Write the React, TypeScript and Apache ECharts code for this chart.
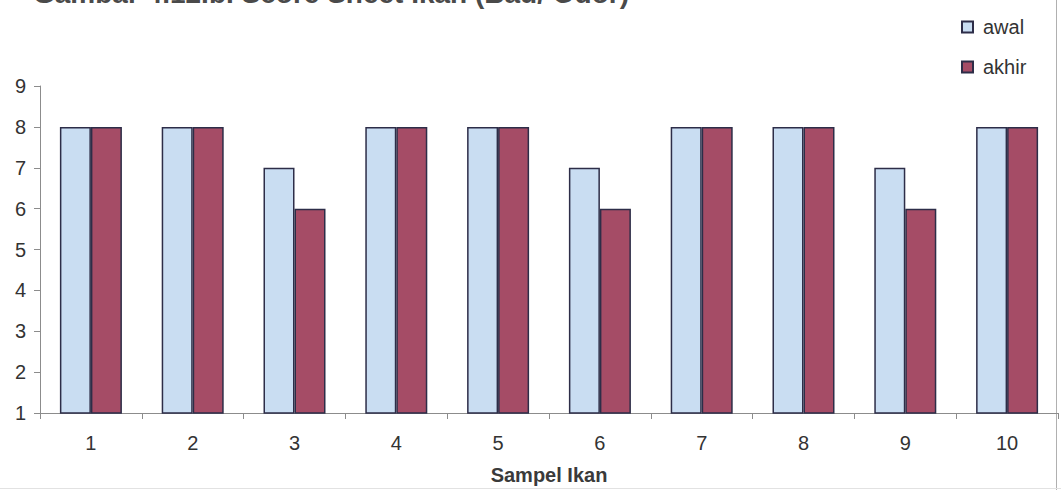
import React, { useEffect, useRef } from "react";
import * as echarts from "echarts";

// Sample numbers on the category axis
const categories = ["1", "2", "3", "4", "5", "6", "7", "8", "9", "10"];
// Score sheet values (odour) at the start and at the end
const awal = [8, 8, 7, 8, 8, 7, 8, 8, 7, 8];
const akhir = [8, 8, 6, 8, 8, 6, 8, 8, 6, 8];
const seriesNames = ["awal", "akhir"];
const titleText = "Gambar 4.12.b. Score Sheet Ikan (Bau/ Odor)";
const xAxisTitle = "Sampel Ikan";

const FONT = "'Liberation Sans', Arial, sans-serif";
const BORDER = "#2d2d48";

export default function App() {
  const ref = useRef<HTMLDivElement>(null);

  useEffect(() => {
    if (!ref.current) return;
    const chart = echarts.init(ref.current, undefined, { renderer: "svg" });
    chart.setOption({
      animation: false,
      backgroundColor: "#ffffff",
      textStyle: { fontFamily: FONT },
      grid: { left: 40, right: 3, top: 86, bottom: 77, containLabel: false },
      legend: {
        orient: "vertical",
        left: 956,
        top: 12,
        itemWidth: 11,
        itemHeight: 11,
        itemGap: 20,
        icon: "rect",
        data: seriesNames,
        textStyle: {
          fontFamily: FONT,
          fontSize: 20,
          color: "#333333",
          padding: [0, 0, 0, 5],
        },
      },
      xAxis: {
        type: "category",
        data: categories,
        axisLine: { show: true, lineStyle: { color: "#8c8c8c", width: 1 } },
        axisTick: { show: true, alignWithLabel: false, length: 6, lineStyle: { color: "#8c8c8c" } },
        axisLabel: { fontFamily: FONT, fontSize: 20, color: "#333333", margin: 20 },
        splitLine: { show: false },
      },
      yAxis: {
        type: "value",
        min: 1,
        max: 9,
        interval: 1,
        axisLine: { show: true, lineStyle: { color: "#8c8c8c", width: 1 } },
        axisTick: { show: true, length: 6, lineStyle: { color: "#8c8c8c" } },
        axisLabel: { fontFamily: FONT, fontSize: 20, color: "#333333", margin: 14 },
        splitLine: { show: false },
      },
      series: [
        {
          name: seriesNames[0],
          type: "bar",
          data: awal,
          barWidth: 31,
          barGap: "0%",
          itemStyle: { color: "#c9ddf2", borderColor: BORDER, borderWidth: 1.5 },
        },
        {
          name: seriesNames[1],
          type: "bar",
          data: akhir,
          barWidth: 31,
          barGap: "0%",
          itemStyle: { color: "#a54c66", borderColor: BORDER, borderWidth: 1.5 },
        },
      ],
      graphic: [
        {
          type: "text",
          left: 33,
          top: -21,
          style: {
            text: titleText,
            fontFamily: FONT,
            fontSize: 28,
            fontWeight: "bold",
            fill: "#4a4a4a",
          },
        },
        {
          type: "text",
          x: 549,
          y: 475,
          style: {
            text: xAxisTitle,
            fontFamily: FONT,
            fontSize: 20,
            fontWeight: "bold",
            fill: "#3a3a3a",
            align: "center",
            verticalAlign: "middle",
          },
        },
        {
          type: "line",
          shape: { x1: 1056.5, y1: 0, x2: 1056.5, y2: 490 },
          style: { stroke: "#b0b0b0", lineWidth: 1 },
        },
        {
          type: "line",
          shape: { x1: 0, y1: 488.5, x2: 1061, y2: 488.5 },
          style: { stroke: "#e2e2e2", lineWidth: 1 },
        },
      ],
    });
    return () => chart.dispose();
  }, []);

  return (
    <div
      ref={ref}
      style={{ position: "fixed", left: 0, top: 0, width: 1061, height: 490, background: "#fff" }}
    />
  );
}
